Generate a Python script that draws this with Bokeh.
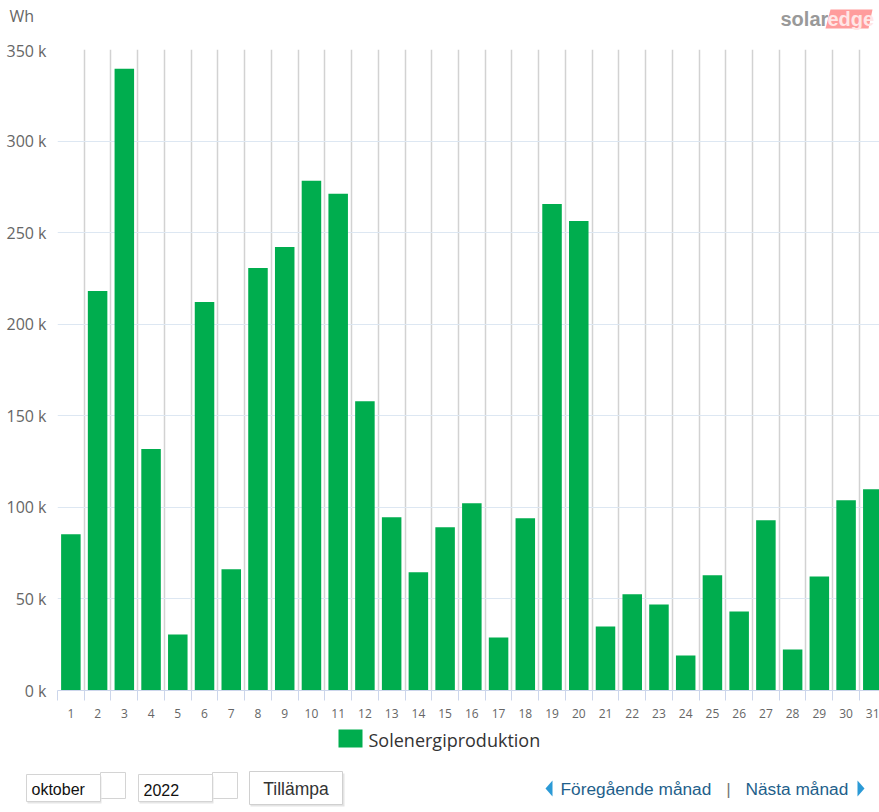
from bokeh.plotting import figure
from bokeh.models import Range1d, FixedTicker, ColumnDataSource
from bokeh.layouts import column
from bokeh.core.properties import value
from bokeh.embed import file_html
from bokeh.resources import INLINE

# ---- data ----
days = list(range(1, 32))
production_wh = [85300, 218200, 339500, 131800, 30600, 212100, 66200, 230700, 242200,
                 278300, 271200, 158000, 94600, 64500, 89100, 102200, 29000, 94000,
                 265700, 256400, 35000, 52500, 47000, 19100, 62900, 43200, 93000,
                 22400, 62300, 103900, 109900]
y_ticks = [0, 50000, 100000, 150000, 200000, 250000, 300000, 350000]
y_tick_labels = ["0 k", "50 k", "100 k", "150 k", "200 k", "250 k", "300 k", "350 k"]
series_name = "Solenergiproduktion"
unit_label = "Wh"
month_label = "oktober"
year_label = "2022"
apply_label = "Tillämpa"
prev_label = "Föregående månad"
next_label = "Nästa månad"

GREEN = "#00AD4E"
CHART_FONT = "Open Sans"
UI_FONT = "Liberation Sans"
W = 879


def strip(y0, y1):
    f = figure(width=W, height=y1 - y0, x_range=Range1d(0, W), y_range=Range1d(y1, y0),
               toolbar_location=None, output_backend="svg", min_border=0, frame_align=False)
    f.axis.visible = False
    f.grid.visible = False
    f.outline_line_color = None
    return f


# ---- top strip: unit label and logo (page-pixel coordinates) ----
top = strip(0, 39)
top.text(x=[9], y=[15], text=[unit_label], text_font=value(CHART_FONT),
         text_font_size="16px", text_color="#666666", text_baseline="middle")
top.text(x=[780], y=[18], text=["solar"], text_font=value(UI_FONT), text_font_style="bold",
         text_font_size="20px", text_color="#999999", text_baseline="middle")
top.patch(x=[830, 872, 868, 825], y=[9, 9, 28, 28], fill_color="#ff9c9c", line_color=None)
top.text(x=[827], y=[18], text=["edge"], text_font=value(UI_FONT), text_font_style="bold",
         text_font_size="20px", text_color="#ffe6e6", text_baseline="middle")

# ---- main chart ----
src = ColumnDataSource(dict(day=days, wh=production_wh))
p = figure(width=W, height=681, x_range=Range1d(0.5, 31.25), y_range=Range1d(0, 350000),
           toolbar_location=None, output_backend="svg", frame_align=False,
           min_border_left=57, min_border_right=0, min_border_top=10, min_border_bottom=30)
p.outline_line_color = None
p.vbar(x="day", top="wh", width=0.73, source=src, fill_color=GREEN, line_color=None)

boundaries = [d - 0.5 for d in days] + [days[-1] + 0.5]
p.xaxis.ticker = FixedTicker(ticks=days, minor_ticks=boundaries)
p.xaxis.major_tick_out = 0
p.xaxis.major_tick_in = 0
p.xaxis.minor_tick_out = 10
p.xaxis.minor_tick_in = 0
p.xaxis.minor_tick_line_color = "#ccd6eb"
p.xaxis.axis_line_color = "#ccd6eb"
p.xaxis.major_label_text_font = CHART_FONT
p.xaxis.major_label_text_font_size = "12px"
p.xaxis.major_label_text_color = "#666666"
p.xaxis.major_label_standoff = 8

p.yaxis.ticker = FixedTicker(ticks=y_ticks)
p.yaxis.major_label_overrides = {t: l for t, l in zip(y_ticks, y_tick_labels)}
p.yaxis.axis_line_color = None
p.yaxis.major_tick_line_color = None
p.yaxis.minor_tick_line_color = None
p.yaxis.major_label_text_font = CHART_FONT
p.yaxis.major_label_text_font_size = "16px"
p.yaxis.major_label_text_color = "#666666"
p.yaxis.major_label_standoff = 5

p.ygrid.ticker = FixedTicker(ticks=y_ticks)
p.ygrid.grid_line_color = "#dde7f2"
p.xgrid.ticker = FixedTicker(ticks=boundaries)
p.xgrid.grid_line_color = "#d2d2d2"
p.xgrid.grid_line_width = 1.5

# ---- bottom strip: legend and controls (page-pixel coordinates) ----
bot = strip(720, 812)

bot.quad(left=[338], right=[362], top=[729], bottom=[747], fill_color=GREEN, line_color=None)
bot.text(x=[368], y=[739], text=[series_name], text_font=value(CHART_FONT),
         text_font_size="18px", text_color="#333333", text_baseline="middle")

for x0, label in [(26, month_label), (138, year_label)]:
    bot.quad(left=[x0 + 74], right=[x0 + 99], top=[772], bottom=[798],
             fill_color="white", line_color="#d4d4d4", line_width=1)
    bot.quad(left=[x0 + 1], right=[x0 + 75], top=[776], bottom=[803],
             fill_color="#e6e6e6", line_color=None)
    bot.quad(left=[x0], right=[x0 + 74], top=[774], bottom=[801],
             fill_color="white", line_color="#d4d4d4", line_width=1)
    bot.text(x=[x0 + 5], y=[789], text=[label], text_font=value(UI_FONT),
             text_font_size="16px", text_color="#111111", text_baseline="middle")

bot.quad(left=[250], right=[344], top=[773], bottom=[806], fill_color="#e4e4e4", line_color=None)
bot.quad(left=[249], right=[342], top=[771], bottom=[804],
         fill_color="white", line_color="#d0d0d0", line_width=1)
bot.text(x=[295.5], y=[788], text=[apply_label], text_font=value(UI_FONT),
         text_font_size="17.5px", text_color="#333333", text_baseline="middle", text_align="center")

bot.patch(x=[545, 552, 552], y=[788, 780, 796], fill_color="#2b9ad6", line_color=None)
bot.text(x=[560], y=[788], text=[prev_label], text_font=value(UI_FONT),
         text_font_size="17.3px", text_color="#1f5f8b", text_baseline="middle")
bot.text(x=[728], y=[788], text=["|"], text_font=value(UI_FONT),
         text_font_size="17.3px", text_color="#777777", text_baseline="middle", text_align="center")
bot.text(x=[745], y=[788], text=[next_label], text_font=value(UI_FONT),
         text_font_size="17.3px", text_color="#1f5f8b", text_baseline="middle")
bot.patch(x=[857, 857, 864], y=[780, 796, 788], fill_color="#2b9ad6", line_color=None)

layout = column(top, p, bot, spacing=0)
open("out.html", "w").write(file_html(layout, INLINE))
